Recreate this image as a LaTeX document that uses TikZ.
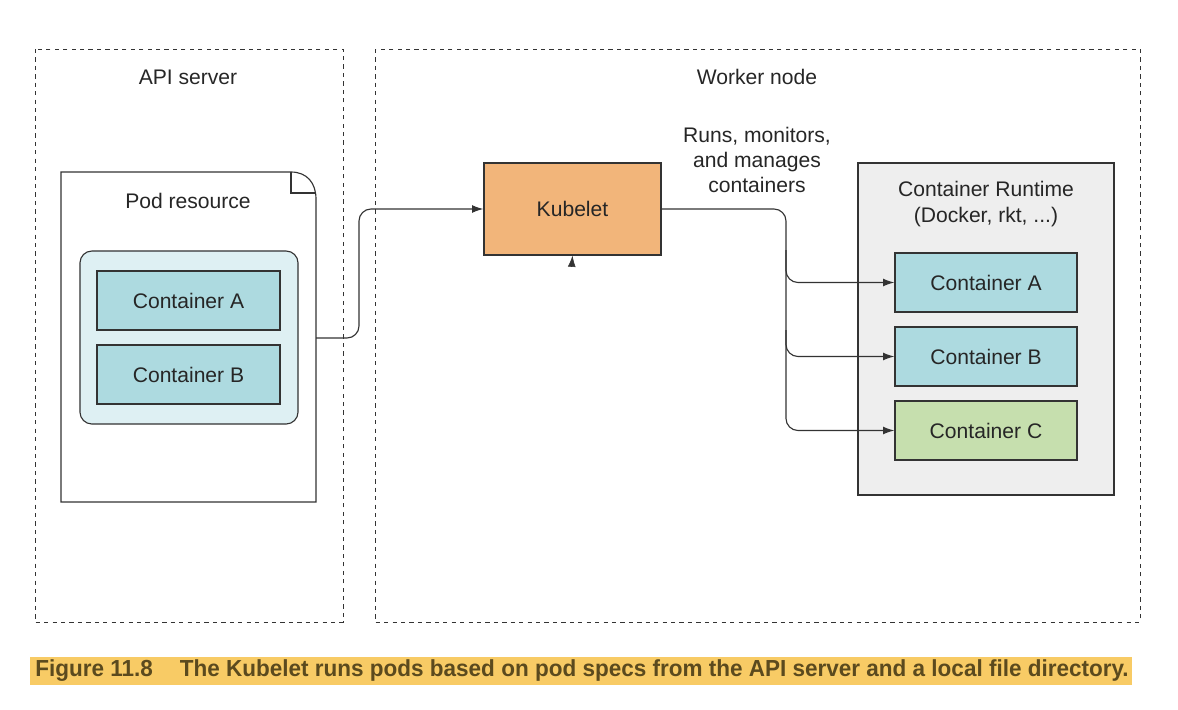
\documentclass[tikz,border=0pt]{standalone}
\usepackage{graphicx}
\usepackage{fontspec}
\setmainfont{Liberation Sans}
\usetikzlibrary{arrows.meta}
\definecolor{kubeorange}{HTML}{F2B57A}
\definecolor{ctrblue}{HTML}{ADDAE0}
\definecolor{ctrgreen}{HTML}{C6DFAE}
\definecolor{podcyan}{HTML}{DEF0F3}
\definecolor{rtgray}{HTML}{EEEEEE}
\definecolor{capband}{HTML}{F8CB65}
\definecolor{captext}{HTML}{5B4A1E}
\definecolor{linegray}{HTML}{333333}
\tikzset{
  box/.style={draw=linegray, line width=0.8pt, text=black!85,
    font=\fontsize{15}{18}\selectfont, inner sep=0pt},
  ctr/.style={box, fill=ctrblue, minimum width=4.55cm, minimum height=1.475cm},
  zone/.style={draw=black!80, dashed, line width=0.6pt},
  lbl/.style={font=\fontsize{15}{18}\selectfont, text=black!85, align=center},
  link/.style={->, draw=linegray, line width=0.8pt, rounded corners=0.3cm},
  >={Latex[length=8pt,width=5.5pt]}
}
\begin{document}
\begin{tikzpicture}[x=0.025cm,y=-0.025cm]
\useasboundingbox (0,0) rectangle (1178,710);
% zones
\draw[zone] (35,49) rectangle (343,622);
\draw[zone] (375,49) rectangle (1140,622);
\node[lbl] (apilbl) at (188,77) {API server};
\node[lbl] (wrklbl) at (757,77) {Worker node};
% pod resource document
\draw[draw=linegray, line width=0.8pt, fill=white] (61,172) -- (291,172)
  .. controls (307,172) and (316,183) .. (316,199) -- (316,502) -- (61,502) -- cycle;
\draw[draw=linegray, line width=0.8pt] (291,172) -- (291,193) -- (315,193);
\node[lbl] (podlbl) at (188,201) {Pod resource};
\node[box, fill=podcyan, rounded corners=0.3cm, minimum width=5.45cm,
  minimum height=4.325cm] (pod) at (189,337.5) {};
\node[ctr, minimum width=4.575cm] (podA) at (188.5,300.5) {Container A};
\node[ctr, minimum width=4.575cm] (podB) at (188.5,374.5) {Container B};
\coordinate (podout) at (316,338);
% kubelet
\node[box, fill=kubeorange, minimum width=4.425cm, minimum height=2.3cm]
  (kubelet) at (572.5,209) {Kubelet};
\coordinate (kubein) at (572,263);
\draw[->, draw=linegray] (kubein) -- (kubelet.south);
\node[lbl] (runs) at (757,160) {Runs, monitors,\\and manages\\containers};
% container runtime
\node[box, fill=rtgray, minimum width=6.4cm, minimum height=8.3cm] (runtime) at (986,329) {};
\node[lbl] (rtlbl) at (986,204) {Container Runtime\\(Docker, rkt, ...)};
\node[ctr] (ctrA) at (986,282.5) {Container A};
\node[ctr] (ctrB) at (986,356.5) {Container B};
\node[ctr, fill=ctrgreen] (ctrC) at (986,430.5) {Container C};
% connectors
\draw[link] (podout) -- (359,338) |- (kubelet.west);
\draw[link] (kubelet.east) -- (786,209) |- (ctrC.west);
\draw[link] (786,250) |- (ctrA.west);
\draw[link] (786,330) |- (ctrB.west);
% caption
\fill[capband] (30,657) rectangle (1132,685);
\node[anchor=west, inner sep=0pt, text=captext,
  font=\fontsize{16.5}{19}\selectfont\bfseries] (caption) at (35,671)
  {\scalebox{0.97}[1]{Figure 11.8\hspace{1.2em}The Kubelet runs pods based on pod specs from the API server and a local file directory.}};
\end{tikzpicture}
\end{document}
